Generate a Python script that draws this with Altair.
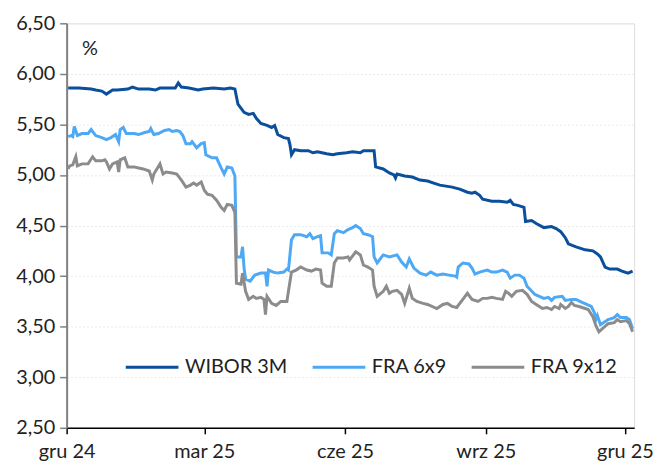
import altair as alt
import pandas as pd

series_names = ["WIBOR 3M", "FRA 6x9", "FRA 9x12"]
series_colors = ["#0A4F9C", "#4DA8F5", "#8C8C8C"]

wibor_dates = ["2024-12-02", "2024-12-09", "2024-12-17", "2024-12-20", "2024-12-24", "2024-12-27",
               "2024-12-31", "2025-01-03", "2025-01-10", "2025-01-13", "2025-01-17", "2025-01-24",
               "2025-01-28", "2025-01-31", "2025-02-07", "2025-02-10", "2025-02-12", "2025-02-14",
               "2025-02-19", "2025-02-25", "2025-02-28", "2025-03-07", "2025-03-14", "2025-03-18",
               "2025-03-21", "2025-03-23", "2025-03-27", "2025-03-30", "2025-04-02", "2025-04-04",
               "2025-04-07", "2025-04-11", "2025-04-14", "2025-04-16", "2025-04-18", "2025-04-22",
               "2025-04-25", "2025-04-26", "2025-04-27", "2025-04-29", "2025-05-03", "2025-05-08",
               "2025-05-11", "2025-05-14", "2025-05-20", "2025-05-24", "2025-05-27", "2025-06-02",
               "2025-06-06", "2025-06-11", "2025-06-13", "2025-06-17", "2025-06-20", "2025-06-21",
               "2025-06-26", "2025-06-30", "2025-07-03", "2025-07-04", "2025-07-05", "2025-07-10",
               "2025-07-15", "2025-07-20", "2025-07-25", "2025-07-29", "2025-08-02", "2025-08-10",
               "2025-08-15", "2025-08-20", "2025-08-23", "2025-08-25", "2025-08-28", "2025-08-30",
               "2025-09-05", "2025-09-10", "2025-09-15", "2025-09-17", "2025-09-19", "2025-09-22",
               "2025-09-26", "2025-09-27", "2025-10-01", "2025-10-04", "2025-10-09", "2025-10-14",
               "2025-10-17", "2025-10-20", "2025-10-23", "2025-10-25", "2025-10-30", "2025-11-05",
               "2025-11-10", "2025-11-13", "2025-11-15", "2025-11-18", "2025-11-21", "2025-11-26",
               "2025-11-29", "2025-12-03", "2025-12-06"]
wibor_vals = [5.86, 5.86, 5.85, 5.84, 5.83, 5.80,
              5.84, 5.84, 5.85, 5.87, 5.85, 5.85,
              5.84, 5.86, 5.86, 5.86, 5.91, 5.87,
              5.86, 5.84, 5.85, 5.86, 5.85, 5.86,
              5.85, 5.70, 5.62, 5.60, 5.61, 5.56,
              5.51, 5.49, 5.47, 5.49, 5.40, 5.37,
              5.36, 5.30, 5.20, 5.25, 5.24, 5.24,
              5.22, 5.23, 5.21, 5.20, 5.21, 5.22,
              5.23, 5.22, 5.24, 5.24, 5.24, 5.08,
              5.06, 5.02, 5.00, 4.97, 5.01, 4.99,
              4.98, 4.95, 4.94, 4.92, 4.90, 4.88,
              4.86, 4.83, 4.82, 4.83, 4.80, 4.76,
              4.74, 4.74, 4.73, 4.75, 4.71, 4.70,
              4.68, 4.54, 4.55, 4.52, 4.48, 4.49,
              4.47, 4.44, 4.38, 4.32, 4.29, 4.26,
              4.25, 4.22, 4.19, 4.09, 4.07, 4.07,
              4.05, 4.03, 4.05]

fra69_dates = ["2024-12-02", "2024-12-04", "2024-12-05", "2024-12-06", "2024-12-08", "2024-12-11",
               "2024-12-15", "2024-12-17", "2024-12-20", "2024-12-24", "2024-12-27", "2024-12-30",
               "2025-01-02", "2025-01-04", "2025-01-05", "2025-01-07", "2025-01-09", "2025-01-14",
               "2025-01-17", "2025-01-21", "2025-01-24", "2025-01-25", "2025-01-27", "2025-01-30",
               "2025-02-03", "2025-02-06", "2025-02-08", "2025-02-11", "2025-02-13", "2025-02-15",
               "2025-02-17", "2025-02-20", "2025-02-21", "2025-02-24", "2025-02-27", "2025-03-01",
               "2025-03-02", "2025-03-06", "2025-03-09", "2025-03-12", "2025-03-14", "2025-03-16",
               "2025-03-19", "2025-03-21", "2025-03-22", "2025-03-25", "2025-03-26", "2025-03-27",
               "2025-03-28", "2025-03-31", "2025-04-03", "2025-04-07", "2025-04-10", "2025-04-11",
               "2025-04-12", "2025-04-15", "2025-04-18", "2025-04-22", "2025-04-24", "2025-04-25",
               "2025-04-27", "2025-04-29", "2025-05-03", "2025-05-07", "2025-05-09", "2025-05-11",
               "2025-05-14", "2025-05-16", "2025-05-17", "2025-05-21", "2025-05-23", "2025-05-25",
               "2025-05-27", "2025-05-31", "2025-06-03", "2025-06-06", "2025-06-08", "2025-06-11",
               "2025-06-13", "2025-06-16", "2025-06-19", "2025-06-20", "2025-06-22", "2025-06-26",
               "2025-06-30", "2025-07-05", "2025-07-08", "2025-07-11", "2025-07-13", "2025-07-16",
               "2025-07-20", "2025-07-24", "2025-07-27", "2025-07-31", "2025-08-04", "2025-08-08",
               "2025-08-12", "2025-08-13", "2025-08-14", "2025-08-17", "2025-08-21", "2025-08-23",
               "2025-08-25", "2025-08-28", "2025-09-02", "2025-09-05", "2025-09-08", "2025-09-12",
               "2025-09-15", "2025-09-17", "2025-09-20", "2025-09-23", "2025-09-26", "2025-09-28",
               "2025-10-03", "2025-10-06", "2025-10-09", "2025-10-12", "2025-10-14", "2025-10-16",
               "2025-10-21", "2025-10-23", "2025-10-27", "2025-10-30", "2025-11-03", "2025-11-06",
               "2025-11-09", "2025-11-11", "2025-11-12", "2025-11-13", "2025-11-15", "2025-11-20",
               "2025-11-24", "2025-11-26", "2025-11-28", "2025-12-02", "2025-12-04", "2025-12-06"]
fra69_vals = [5.38, 5.39, 5.38, 5.48, 5.39, 5.41,
              5.41, 5.45, 5.39, 5.37, 5.35, 5.37,
              5.40, 5.33, 5.45, 5.47, 5.41, 5.41,
              5.40, 5.42, 5.43, 5.46, 5.40, 5.41,
              5.44, 5.45, 5.43, 5.44, 5.43, 5.39,
              5.31, 5.31, 5.33, 5.27, 5.31, 5.32,
              5.20, 5.17, 5.17, 5.07, 5.01, 5.08,
              5.07, 4.99, 4.19, 4.19, 4.29, 4.08,
              3.97, 3.95, 4.01, 4.03, 4.03, 3.90,
              4.06, 4.04, 4.03, 4.04, 4.07, 4.06,
              4.36, 4.41, 4.41, 4.39, 4.42, 4.37,
              4.39, 4.40, 4.23, 4.23, 4.21, 4.42,
              4.45, 4.43, 4.46, 4.48, 4.50, 4.47,
              4.42, 4.41, 4.39, 4.19, 4.13, 4.21,
              4.19, 4.21, 4.14, 4.09, 4.17, 4.08,
              4.03, 4.01, 4.04, 4.01, 4.02, 4.01,
              4.00, 3.99, 4.09, 4.13, 4.12, 4.08,
              4.02, 4.04, 4.06, 4.04, 4.04, 4.06,
              4.04, 3.98, 4.01, 4.01, 3.98, 3.90,
              3.82, 3.80, 3.78, 3.79, 3.76, 3.79,
              3.80, 3.76, 3.77, 3.77, 3.74, 3.72,
              3.70, 3.64, 3.57, 3.61, 3.52, 3.57,
              3.59, 3.62, 3.59, 3.59, 3.57, 3.48]

fra912_dates = ["2024-12-02", "2024-12-03", "2024-12-05", "2024-12-07", "2024-12-08", "2024-12-11",
                "2024-12-15", "2024-12-18", "2024-12-20", "2024-12-24", "2024-12-26", "2024-12-27",
                "2024-12-29", "2024-12-31", "2025-01-03", "2025-01-04", "2025-01-05", "2025-01-08",
                "2025-01-10", "2025-01-14", "2025-01-17", "2025-01-20", "2025-01-24", "2025-01-26",
                "2025-01-27", "2025-01-29", "2025-01-31", "2025-02-02", "2025-02-04", "2025-02-08",
                "2025-02-11", "2025-02-14", "2025-02-17", "2025-02-20", "2025-02-22", "2025-02-24",
                "2025-02-27", "2025-03-01", "2025-03-03", "2025-03-06", "2025-03-09", "2025-03-12",
                "2025-03-14", "2025-03-16", "2025-03-19", "2025-03-21", "2025-03-22", "2025-03-25",
                "2025-03-26", "2025-03-28", "2025-03-30", "2025-04-02", "2025-04-04", "2025-04-07",
                "2025-04-09", "2025-04-10", "2025-04-11", "2025-04-14", "2025-04-17", "2025-04-20",
                "2025-04-24", "2025-04-25", "2025-04-27", "2025-04-30", "2025-05-03", "2025-05-07",
                "2025-05-10", "2025-05-13", "2025-05-16", "2025-05-17", "2025-05-20", "2025-05-23",
                "2025-05-25", "2025-05-27", "2025-05-31", "2025-06-03", "2025-06-04", "2025-06-06",
                "2025-06-08", "2025-06-11", "2025-06-13", "2025-06-16", "2025-06-19", "2025-06-20",
                "2025-06-22", "2025-06-26", "2025-06-28", "2025-06-30", "2025-07-02", "2025-07-05",
                "2025-07-08", "2025-07-10", "2025-07-13", "2025-07-15", "2025-07-18", "2025-07-22",
                "2025-07-25", "2025-07-31", "2025-08-04", "2025-08-07", "2025-08-10", "2025-08-13",
                "2025-08-17", "2025-08-20", "2025-08-23", "2025-08-27", "2025-08-30", "2025-09-02",
                "2025-09-05", "2025-09-08", "2025-09-12", "2025-09-14", "2025-09-16", "2025-09-18",
                "2025-09-21", "2025-09-25", "2025-09-28", "2025-10-01", "2025-10-04", "2025-10-08",
                "2025-10-11", "2025-10-14", "2025-10-16", "2025-10-19", "2025-10-20", "2025-10-23",
                "2025-10-25", "2025-10-27", "2025-10-29", "2025-11-01", "2025-11-05", "2025-11-07",
                "2025-11-10", "2025-11-12", "2025-11-14", "2025-11-17", "2025-11-20", "2025-11-24",
                "2025-11-26", "2025-11-28", "2025-12-02", "2025-12-04", "2025-12-06"]
fra912_vals = [5.06, 5.09, 5.10, 5.18, 5.09, 5.11,
               5.11, 5.18, 5.14, 5.14, 5.15, 5.13,
               5.06, 5.11, 5.13, 5.03, 5.15, 5.17,
               5.08, 5.08, 5.07, 5.06, 5.04, 4.95,
               5.01, 5.06, 5.11, 5.01, 5.03, 5.02,
               5.01, 4.95, 4.88, 4.90, 4.92, 4.90,
               4.93, 4.85, 4.81, 4.80, 4.75, 4.68,
               4.65, 4.71, 4.70, 4.63, 3.93, 3.92,
               4.03, 3.85, 3.77, 3.80, 3.78, 3.79,
               3.77, 3.62, 3.80, 3.73, 3.71, 3.75,
               3.75, 3.85, 4.04, 4.06, 4.09, 4.06,
               4.05, 4.07, 4.06, 3.93, 3.90, 3.90,
               4.13, 4.18, 4.18, 4.19, 4.16, 4.20,
               4.24, 4.21, 4.11, 4.09, 4.06, 3.90,
               3.80, 3.85, 3.90, 3.83, 3.85, 3.86,
               3.82, 3.73, 3.88, 3.78, 3.75, 3.73,
               3.72, 3.68, 3.72, 3.73, 3.70, 3.69,
               3.77, 3.83, 3.77, 3.75, 3.78, 3.78,
               3.79, 3.78, 3.77, 3.85, 3.83, 3.80,
               3.85, 3.86, 3.82, 3.75, 3.72, 3.68,
               3.69, 3.67, 3.70, 3.68, 3.72, 3.68,
               3.70, 3.74, 3.71, 3.70, 3.68, 3.67,
               3.60, 3.51, 3.45, 3.49, 3.53, 3.54,
               3.57, 3.55, 3.56, 3.53, 3.45]

y_ticks = [2.5, 3.0, 3.5, 4.0, 4.5, 5.0, 5.5, 6.0, 6.5]
x_tick_months = ["2024-12", "2025-03", "2025-06", "2025-09", "2025-12"]
x_tick_labels = ["gru 24", "mar 25", "cze 25", "wrz 25", "gru 25"]

rows = []
for name, ds, vs in zip(series_names,
                        [wibor_dates, fra69_dates, fra912_dates],
                        [wibor_vals, fra69_vals, fra912_vals]):
    for d, v in zip(ds, vs):
        rows.append({"date": d, "value": v, "series": name})
df = pd.DataFrame(rows)

x_tick_values = [alt.DateTime(year=int(m[:4]), month=int(m[5:]), date=1, utc=True) for m in x_tick_months]
label_map = "{" + ", ".join(f"'{m}': '{l}'" for m, l in zip(x_tick_months, x_tick_labels)) + "}"

FONT = "Lato"
TXT = "#222222"
FS = 20

chart = alt.Chart(df).mark_line(strokeWidth=3, interpolate="linear").encode(
    x=alt.X("date:T",
            scale=alt.Scale(type="utc",
                            domain=[alt.DateTime(year=2024, month=12, date=1, utc=True),
                                    alt.DateTime(year=2025, month=12, date=7, utc=True)]),
            axis=alt.Axis(values=x_tick_values,
                          labelExpr=label_map + "[utcFormat(datum.value, '%Y-%m')]",
                          title=None, grid=False,
                          domainColor="#000000", domainWidth=1.5,
                          tickColor="#000000", tickSize=6, tickWidth=1.5,
                          labelFontSize=FS, labelFont=FONT, labelColor=TXT,
                          labelPadding=8, labelFlush=False)),
    y=alt.Y("value:Q",
            scale=alt.Scale(domain=[2.5, 6.5], nice=False, zero=False),
            axis=alt.Axis(values=y_ticks,
                          labelExpr="replace(format(datum.value, '.2f'), '.', ',')",
                          title="%", titleAngle=0, titleX=23, titleY=25,
                          titleAlign="center", titleBaseline="middle",
                          titleFontSize=FS, titleFontWeight="normal", titleFont=FONT, titleColor=TXT,
                          grid=True, gridColor="#e9e9e9", gridDash=[2, 2], gridWidth=1,
                          domainColor="#808080", domainWidth=2,
                          tickColor="#808080", tickSize=7, tickWidth=1.5,
                          labelFontSize=FS, labelFont=FONT, labelColor=TXT,
                          labelPadding=5)),
    color=alt.Color("series:N",
                    scale=alt.Scale(domain=series_names, range=series_colors),
                    sort=series_names,
                    legend=alt.Legend(title=None, orient="none", legendX=58, legendY=318,
                                      direction="horizontal", symbolType="stroke",
                                      symbolSize=2809, symbolStrokeWidth=3,
                                      labelFontSize=FS, labelFont=FONT, labelColor=TXT,
                                      labelOffset=5, columnPadding=18, padding=0)),
    order=alt.Order("date:T"),
).properties(
    width=571, height=407,
    padding={"left": 59, "top": 14, "right": 20, "bottom": 36},
    autosize=alt.AutoSizeParams(type="none"),
).configure_view(stroke=None).configure(font=FONT)

chart.save("out.html", embed_options={"renderer": "svg", "actions": False})
